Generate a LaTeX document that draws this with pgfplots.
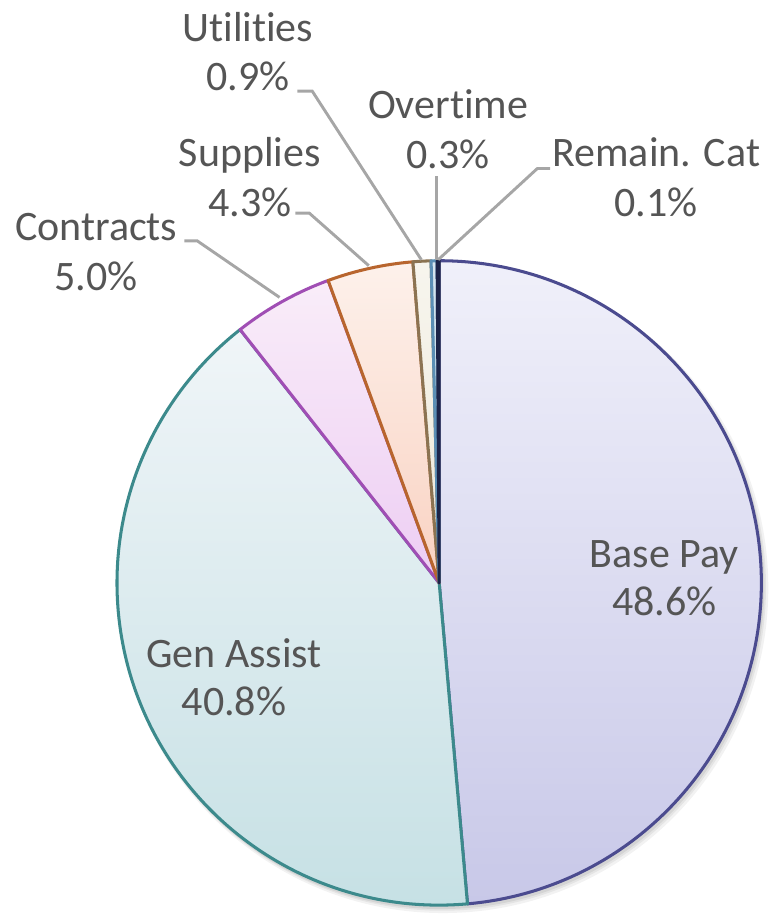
\documentclass[border=0pt]{standalone}
\usepackage{pgfplots}
\pgfplotsset{compat=1.18}
\usepackage{fontspec}
\setmainfont{Carlito}[Ligatures=NoCommon]
\definecolor{txt}{HTML}{555555}
\definecolor{lead}{HTML}{A6A6A6}
\definecolor{bpT}{HTML}{F0F0FA}\definecolor{bpB}{HTML}{C8C8E8}\definecolor{bpD}{HTML}{4B4B8F}
\definecolor{gaT}{HTML}{F0F5F8}\definecolor{gaB}{HTML}{C5E0E4}\definecolor{gaD}{HTML}{3C8A8C}
\definecolor{coT}{HTML}{F9EDF9}\definecolor{coB}{HTML}{EDCDF3}\definecolor{coD}{HTML}{A04EB4}
\definecolor{suT}{HTML}{FDF1EB}\definecolor{suB}{HTML}{F9D2C2}\definecolor{suD}{HTML}{B8652E}
\definecolor{utT}{HTML}{F7F5EE}\definecolor{utB}{HTML}{EDE8D8}\definecolor{utD}{HTML}{8B7352}
\definecolor{otT}{HTML}{D6E6F0}\definecolor{otB}{HTML}{B0CCE0}\definecolor{otD}{HTML}{5B8FB5}
\definecolor{rcT}{HTML}{2A3560}\definecolor{rcB}{HTML}{1C2448}\definecolor{rcD}{HTML}{1C2448}
\newcommand\R{243.75pt}
\begin{document}
\begin{tikzpicture}
\begin{axis}[hide axis, x=0.75pt, y=0.75pt, xmin=-443, xmax=326, ymin=-333, ymax=588,
  clip=false, scale only axis]
\path (axis cs:-443,-333) rectangle (axis cs:326,588);
% soft shadow
\fill[black, opacity=0.05] (axis cs:4,-5) circle[radius=246pt];
\fill[black, opacity=0.06] (axis cs:3,-4) circle[radius=245pt];
\fill[black, opacity=0.07] (axis cs:2,-3) circle[radius=244.5pt];
% pie slices: value / top colour / bottom colour / border
\gdef\curang{90}
\foreach \v/\ct/\cb/\cd in {48.6/bpT/bpB/bpD, 40.8/gaT/gaB/gaD, 5.0/coT/coB/coD, 4.3/suT/suB/suD, 0.9/utT/utB/utD, 0.3/otT/otB/otD, 0.1/rcT/rcB/rcD}{
  \pgfmathsetmacro\e{\curang-3.6*\v}
  \edef\temp{\noexpand\filldraw[draw=\cd, line width=2.3pt, line join=round, top color=\ct, bottom color=\cb]
    (axis cs:0,0) -- ++(\curang:\R) arc[start angle=\curang, end angle=\e, radius=\R] -- cycle;}
  \temp
  \xdef\curang{\e}
}
% leader lines (pixel coords: x-443, 588-y)
\addplot[lead, line width=2.2pt] coordinates {(-257,-243+588) (-244,-243+588) (-161,-300+588)};
\addplot[lead, line width=2.2pt] coordinates {(-145,-215+588) (-131,-215+588) (-71,-268+588)};
\addplot[lead, line width=2.2pt] coordinates {(-143,-92+588) (-128,-92+588) (-18,-262+588)};
\addplot[lead, line width=2.2pt] coordinates {(-3,-178+588) (-3,-262+588)};
\addplot[lead, line width=2.2pt] coordinates {(112,-170+588) (99,-170+588) (-1,-262+588)};
% labels
\tikzset{lab/.style={anchor=base, text=txt, inner sep=0pt, font=\fontsize{31.75}{38}\selectfont}}
\node[lab] at (axis cs:250-443,588-42) {Utilities};
\node[lab] at (axis cs:250-443,588-91) {0.9\%};
\node[lab] at (axis cs:452-443,588-120) {Overtime};
\node[lab] at (axis cs:452-443,588-170) {0.3\%};
\node[lab] at (axis cs:252-443,588-168) {Supplies};
\node[lab] at (axis cs:252-443,588-218) {4.3\%};
\node[lab] at (axis cs:662-443,588-168) {Remain. Cat};
\node[lab] at (axis cs:662-443,588-218) {0.1\%};
\node[lab] at (axis cs:97-443,588-243) {Contracts};
\node[lab] at (axis cs:97-443,588-293) {5.0\%};
\node[lab] at (axis cs:670-443,588-572) {Base Pay};
\node[lab] at (axis cs:670-443,588-621) {48.6\%};
\node[lab] at (axis cs:236-443,588-673) {Gen Assist};
\node[lab] at (axis cs:236-443,588-722) {40.8\%};
\end{axis}
\end{tikzpicture}
\end{document}
